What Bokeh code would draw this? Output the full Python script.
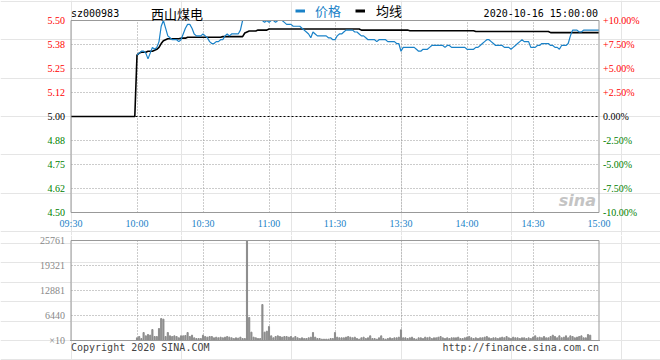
from bokeh.plotting import figure
from bokeh.layouts import column
from bokeh.models import (Label, LabelSet, Legend, LegendItem, Range1d, ColumnDataSource,
                          Grid, FixedTicker)
from bokeh.embed import file_html
from bokeh.resources import INLINE

MONO = "DejaVu Sans Mono"
CJK = "Noto Sans CJK SC"
BLUE = "#1a82c8"
RED = "#ff0000"
GREEN = "#008000"
GRID = "#999999"
BORDER = "#999999"

stock_code = "sz000983"
stock_name = "西山煤电"
stamp = "2020-10-16 15:00:00"
legend_price = "价格"
legend_avg = "均线"
copyright_text = "Copyright 2020 SINA.COM"
site_text = "http://finance.sina.com.cn"

prev_close = 5.00
time_ticks = [0, 30, 60, 90, 120, 150, 180, 210, 240]
time_labels = ["09:30", "10:00", "10:30", "11:00", "11:30", "13:30", "14:00", "14:30", "15:00"]
price_ticks = [5.5, 5.375, 5.25, 5.125, 5.0, 4.875, 4.75, 4.625, 4.5]
price_labels = ["5.50", "5.38", "5.25", "5.12", "5.00", "4.88", "4.75", "4.62", "4.50"]
pct_labels = ["+10.00%", "+7.50%", "+5.00%", "+2.50%", "0.00%", "-2.50%", "-5.00%", "-7.50%", "-10.00%"]
vol_ticks = [0, 6440.25, 12880.5, 19320.75, 25761]
vol_labels = ["\u00d710", "6440", "12881", "19321", "25761"]

# minute index 0 = 09:30, 120 = 11:30/13:00, 240 = 15:00
minutes = list(range(241))
price_start = 30  # first traded minute (10:00)

price = [
    5.32, 5.33, 5.34, 5.34, 5.33, 5.30, 5.33, 5.36, 5.35, 5.36,
    5.39, 5.47, 5.50, 5.46, 5.42, 5.41, 5.40, 5.40, 5.40, 5.39,
    5.40, 5.43, 5.46, 5.48, 5.48, 5.46, 5.43, 5.42, 5.42, 5.42,
    5.43, 5.42, 5.41, 5.39, 5.38, 5.38, 5.39, 5.39, 5.40, 5.40,
    5.42, 5.43, 5.42, 5.43, 5.43, 5.43, 5.43, 5.45, 5.50, 5.50,
    5.50, 5.50, 5.50, 5.50, 5.50, 5.50, 5.50, 5.50, 5.49, 5.50,
    5.49, 5.50, 5.50, 5.49, 5.50, 5.50, 5.50, 5.49, 5.48, 5.48,
    5.48, 5.47, 5.47, 5.47, 5.47, 5.46, 5.45, 5.44, 5.43, 5.41,
    5.44, 5.43, 5.42, 5.42, 5.42, 5.42, 5.42, 5.41, 5.41, 5.40,
    5.40, 5.42, 5.43, 5.43, 5.44, 5.45, 5.45, 5.45, 5.45, 5.44,
    5.44, 5.43, 5.42, 5.42, 5.41, 5.40, 5.40, 5.40, 5.40, 5.39,
    5.40, 5.40, 5.40, 5.40, 5.39, 5.39, 5.39, 5.39, 5.38, 5.38,
    5.34, 5.36, 5.36, 5.36, 5.36, 5.36, 5.36, 5.35, 5.34, 5.34,
    5.35, 5.35, 5.35, 5.36, 5.37, 5.37, 5.37, 5.37, 5.37, 5.37,
    5.36, 5.37, 5.37, 5.36, 5.36, 5.36, 5.36, 5.36, 5.36, 5.36,
    5.35, 5.35, 5.35, 5.35, 5.36, 5.36, 5.37, 5.38, 5.39, 5.40,
    5.40, 5.39, 5.38, 5.37, 5.37, 5.37, 5.37, 5.36, 5.36, 5.36,
    5.35, 5.36, 5.37, 5.38, 5.39, 5.40, 5.39, 5.39, 5.39, 5.36,
    5.36, 5.36, 5.37, 5.37, 5.38, 5.38, 5.38, 5.38, 5.37, 5.37,
    5.36, 5.36, 5.35, 5.37, 5.37, 5.37, 5.38, 5.42, 5.45, 5.45,
    5.45, 5.44, 5.44, 5.45, 5.45, 5.45, 5.45, 5.45, 5.45, 5.45, 5.45,
]

avg_price = [
    5.00, 5.00, 5.00, 5.00, 5.00, 5.00, 5.00, 5.00, 5.00, 5.00,
    5.00, 5.00, 5.00, 5.00, 5.00, 5.00, 5.00, 5.00, 5.00, 5.00,
    5.00, 5.00, 5.00, 5.00, 5.00, 5.00, 5.00, 5.00, 5.00, 5.00,
    5.32, 5.33, 5.335, 5.335, 5.335, 5.34, 5.34, 5.34, 5.345, 5.35,
    5.36, 5.38, 5.395, 5.40, 5.405, 5.405, 5.405, 5.405, 5.405, 5.405,
    5.408, 5.408, 5.408, 5.413, 5.413, 5.413, 5.413, 5.413, 5.413, 5.413,
    5.413, 5.413, 5.413, 5.413, 5.413, 5.413, 5.413, 5.413, 5.413, 5.416,
    5.416, 5.416, 5.416, 5.416, 5.416, 5.416, 5.416, 5.416, 5.416, 5.435,
    5.44, 5.445, 5.445, 5.445, 5.445, 5.45, 5.45, 5.45, 5.45, 5.45,
    5.456, 5.456, 5.456, 5.456, 5.456, 5.456, 5.456, 5.456, 5.456, 5.456,
    5.456, 5.456, 5.456, 5.456, 5.456, 5.456, 5.456, 5.456, 5.456, 5.456,
    5.456, 5.456, 5.456, 5.456, 5.456, 5.456, 5.456, 5.456, 5.456, 5.456,
    5.456, 5.456, 5.456, 5.456, 5.456, 5.456, 5.456, 5.456, 5.456, 5.456,
    5.456, 5.456, 5.45, 5.45, 5.45, 5.45, 5.45, 5.45, 5.45, 5.45,
    5.45, 5.45, 5.45, 5.45, 5.45, 5.45, 5.45, 5.45, 5.45, 5.45,
    5.45, 5.45, 5.45, 5.45, 5.447, 5.447, 5.447, 5.447, 5.447, 5.447,
    5.447, 5.447, 5.447, 5.447, 5.447, 5.447, 5.447, 5.447, 5.447, 5.447,
    5.447, 5.447, 5.447, 5.447, 5.447, 5.447, 5.447, 5.447, 5.447, 5.447,
    5.447, 5.447, 5.447, 5.447, 5.443, 5.443, 5.443, 5.443, 5.443, 5.443,
    5.443, 5.443, 5.443, 5.443, 5.443, 5.443, 5.443, 5.443, 5.443, 5.443,
    5.443, 5.443, 5.443, 5.443, 5.443, 5.443, 5.443, 5.443, 5.443, 5.443,
    5.443, 5.443, 5.443, 5.443, 5.443, 5.443, 5.443, 5.443, 5.437, 5.437,
    5.437, 5.437, 5.437, 5.437, 5.437, 5.437, 5.437, 5.437, 5.437, 5.437,
    5.437, 5.437, 5.437, 5.437, 5.437, 5.437, 5.437, 5.437, 5.437, 5.437,
    5.437,
]

volume = [
    0, 0, 0, 0, 0, 0, 0, 0, 0, 0,
    0, 0, 0, 0, 0, 0, 0, 0, 0, 0,
    0, 0, 0, 0, 0, 0, 0, 0, 0, 0,
    690, 1030, 500, 2060, 1200, 1550, 1370, 2830, 1030, 1030,
    3090, 5670, 5500, 1030, 2060, 1200, 1030, 1200, 1030, 700,
    1200, 1200, 1290, 2060, 1030, 1370, 690, 515, 515, 515,
    1370, 1030, 860, 1030, 1030, 690, 860, 690, 860, 690,
    860, 1030, 860, 690, 515, 690, 600, 860, 515, 515,
    25761, 5930, 2150, 860, 690, 515, 515, 9270, 2150, 2400,
    3600, 1200, 690, 1030, 1200, 1030, 860, 1030, 1030, 860,
    1030, 690, 1030, 690, 515, 690, 515, 515, 690, 860,
    2060, 860, 515, 515, 340, 340, 340, 340, 515, 515,
    2060, 860, 690, 690, 690, 860, 1030, 860, 690, 860,
    515, 340, 690, 860, 515, 690, 1200, 515, 515, 340,
    690, 1200, 515, 340, 515, 690, 515, 690, 690, 860,
    2750, 690, 690, 515, 690, 860, 515, 340, 690, 690,
    515, 860, 690, 860, 515, 690, 690, 860, 1030, 690,
    515, 690, 515, 690, 690, 690, 860, 515, 515, 690,
    860, 1030, 690, 515, 690, 515, 690, 690, 860, 1030,
    690, 515, 690, 690, 515, 690, 860, 690, 1030, 690,
    515, 860, 690, 690, 515, 690, 690, 515, 690, 515,
    860, 1200, 690, 860, 690, 1030, 690, 690, 1030, 1370,
    1030, 690, 1200, 690, 860, 1200, 690, 1200, 1030, 690,
    860, 1030, 1200, 690, 690, 1550, 1370, 0, 0, 0, 0,
]


def label_colour(v):
    if v > prev_close:
        return RED
    if v < prev_close:
        return GREEN
    return "#000000"


# Layout (pixels): chart box x 70..598; price box y 20..212 inside a 235 px figure,
# volume box y 5..105 inside a 125 px figure. The figures have no side panels, so the
# plotting frame is the whole canvas; ranges are padded to place the boxes.
PX_PER_MIN = 528 / 240
LEFT_PAD, RIGHT_PAD = 70.5, 61.5
t0, t1 = time_ticks[0], time_ticks[-1]
x_range_all = (t0 - LEFT_PAD / PX_PER_MIN, t1 + RIGHT_PAD / PX_PER_MIN)
inner_t = time_ticks[1:-1]


def add_grid(fig, dim, ticks, cross, colour=GRID, dash="1 2"):
    """Dotted grid lines limited to the chart box (Grid.cross_bounds), with a fallback."""
    try:
        g = Grid(dimension=dim, ticker=FixedTicker(ticks=ticks), cross_bounds=cross,
                 grid_line_color=colour, grid_line_dash=dash, grid_line_width=1)
        fig.add_layout(g)
    except AttributeError:
        lo, hi = cross
        if dim == 0:
            fig.segment(x0=ticks, x1=ticks, y0=[lo] * len(ticks), y1=[hi] * len(ticks),
                        line_color="#d8d8d8", line_width=1)
        else:
            fig.segment(x0=[lo] * len(ticks), x1=[hi] * len(ticks), y0=ticks, y1=ticks,
                        line_color="#d8d8d8", line_width=1)


# ---------------- price panel ----------------
p_lo, p_hi = price_ticks[-1], price_ticks[0]
PX_PER_PRICE = 192 / (p_hi - p_lo)
p = figure(width=660, height=235, x_range=Range1d(*x_range_all),
           y_range=Range1d(p_lo - 23 / PX_PER_PRICE, p_hi + 20 / PX_PER_PRICE),
           output_backend="svg", toolbar_location=None, x_axis_location=None, y_axis_location=None,
           min_border=0)
p.outline_line_color = None
p.background_fill_color = "white"
p.border_fill_color = "white"

inner_p = [t for t in price_ticks[1:-1] if t != prev_close]
add_grid(p, 0, inner_t, (p_lo, p_hi))
add_grid(p, 1, inner_p, (t0, t1))
add_grid(p, 1, [prev_close], (t0, t1), colour="#000000", dash="2 2")

p.line(minutes, avg_price, line_color="#000000", line_width=1.6)
p.line(minutes[price_start:], price, line_color=BLUE, line_width=1.2)

# chart box
p.line([t0, t1, t1, t0, t0], [p_lo, p_lo, p_hi, p_hi, p_lo], line_color=BORDER, line_width=1)

tick_src = ColumnDataSource(dict(
    y=price_ticks, lab=price_labels, pct=pct_labels,
    col=[label_colour(t) for t in price_ticks],
    xl=[t0] * len(price_ticks), xr=[t1] * len(price_ticks)))
p.add_layout(LabelSet(x="xl", y="y", text="lab", source=tick_src, x_offset=-6,
                      text_align="right", text_baseline="middle", text_font=MONO,
                      text_font_size="10px", text_color="col"))
p.add_layout(LabelSet(x="xr", y="y", text="pct", source=tick_src, x_offset=4,
                      text_align="left", text_baseline="middle", text_font=MONO,
                      text_font_size="10px", text_color="col"))

time_src = ColumnDataSource(dict(x=time_ticks, y=[p_lo] * len(time_ticks), lab=time_labels))
p.add_layout(LabelSet(x="x", y="y", text="lab", source=time_src, y_offset=-11,
                      text_align="center", text_baseline="middle", text_font=MONO,
                      text_font_size="10px", text_color=BLUE))

p.add_layout(Label(x=t0, y=p_hi, y_offset=7, text=stock_code, text_baseline="middle",
                   text_font=MONO, text_font_size="10px", text_color="#000000"))
p.add_layout(Label(x=t0, y=p_hi, x_offset=80, y_offset=7, text=stock_name, text_baseline="middle",
                   text_font=CJK, text_font_size="13px", text_color="#000000"))
p.add_layout(Label(x=t1, y=p_hi, x_offset=-1, y_offset=7, text=stamp, text_align="right",
                   text_baseline="middle", text_font=MONO, text_font_size="10px", text_color="#000000"))

# legend keys (one invisible NaN point each so that the legend swatch is drawn)
nan = float("nan")
key_price = p.line([nan], [nan], line_color=BLUE, line_width=3)
key_avg = p.line([nan], [nan], line_color="#000000", line_width=3)
for rend, text, colour, loc, standoff in [(key_price, legend_price, BLUE, (295, 215), 10),
                                          (key_avg, legend_avg, "#000000", (355, 215), 11)]:
    lg = Legend(items=[LegendItem(label=text, renderers=[rend])], location=loc, orientation="horizontal",
                padding=0, margin=0, glyph_width=10, glyph_height=15, label_height=15,
                label_standoff=standoff, label_text_font=CJK, label_text_font_size="13px",
                label_text_color=colour, border_line_color=None, background_fill_alpha=0)
    p.add_layout(lg, "center")

p.add_layout(Label(x=t1, y=p_lo, x_offset=-3, y_offset=3, text="sina", text_align="right",
                   text_baseline="bottom", text_font="DejaVu Sans", text_font_style="bold italic",
                   text_font_size="16px", text_color="#c4c4c4"))

# ---------------- volume panel ----------------
v_lo, v_hi = vol_ticks[0], vol_ticks[-1]
PX_PER_VOL = 100 / (v_hi - v_lo)
v = figure(width=660, height=125, x_range=Range1d(*x_range_all),
           y_range=Range1d(v_lo - 20 / PX_PER_VOL, v_hi + 5 / PX_PER_VOL),
           output_backend="svg", toolbar_location=None, x_axis_location=None, y_axis_location=None,
           min_border=0)
v.outline_line_color = None
v.background_fill_color = "white"
v.border_fill_color = "white"

add_grid(v, 0, inner_t, (v_lo, v_hi))
add_grid(v, 1, vol_ticks[1:-1], (t0, t1))

v.vbar(x=minutes, top=volume, width=0.5, color="#8c8c8c")

v.line([t0, t1, t1, t0, t0], [v_lo, v_lo, v_hi, v_hi, v_lo], line_color=BORDER, line_width=1)

vol_src = ColumnDataSource(dict(x=[t0] * len(vol_ticks), y=vol_ticks, lab=vol_labels))
v.add_layout(LabelSet(x="x", y="y", text="lab", source=vol_src, x_offset=-6,
                      text_align="right", text_baseline="middle", text_font=MONO,
                      text_font_size="10px", text_color="#888888"))

v.add_layout(Label(x=t0, y=v_lo, y_offset=-7, text=copyright_text, text_baseline="middle",
                   text_font=MONO, text_font_size="10px", text_color="#444444"))
v.add_layout(Label(x=t1, y=v_lo, y_offset=-7, text=site_text, text_align="right", text_baseline="middle",
                   text_font=MONO, text_font_size="10px", text_color="#444444"))

layout = column(p, v, spacing=0)
open("out.html", "w").write(file_html(layout, INLINE))
